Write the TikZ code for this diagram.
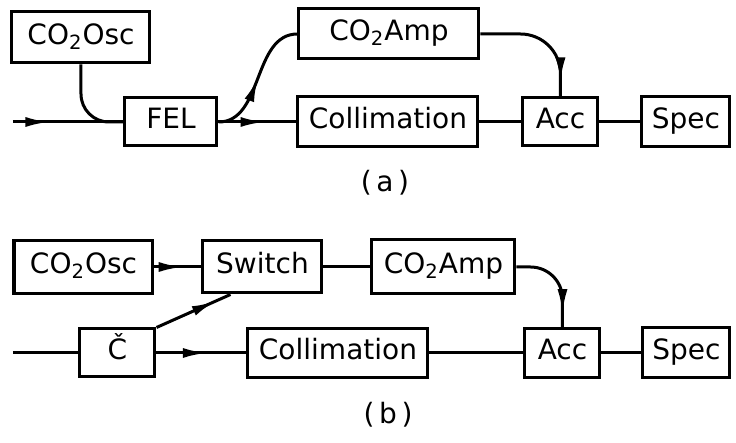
\documentclass[tikz,border=0pt]{standalone}
\usepackage{fontspec}
\setmainfont{DejaVu Sans}
\usetikzlibrary{arrows.meta,decorations.markings}

\tikzset{
  blk/.style={draw, line width=1.5pt, inner sep=0pt, text height=10pt, text depth=3pt,
    font=\fontsize{14}{16}\selectfont},
  wire/.style={line width=1.5pt},
  midarrow/.style={postaction={decorate},
    decoration={markings, mark=at position #1 with {\arrow{Latex[length=12pt,width=5pt]}}}}
}

\begin{document}
\begin{tikzpicture}[x=0.5pt, y=-0.5pt]
  \useasboundingbox (0,0) rectangle (736,443);

  % (a) FEL chain
  \node[blk, minimum width=69pt, minimum height=25.5pt] (osca) at (81,37.5) {CO\textsubscript{2}Osc};
  \node[blk, minimum width=46pt, minimum height=24pt] (fel) at (171,122) {FEL};
  \node[blk, minimum width=90pt, minimum height=25pt] (ampa) at (389,34) {CO\textsubscript{2}Amp};
  \node[blk, minimum width=90pt, minimum height=25pt] (colla) at (388,122) {Collimation};
  \node[blk, minimum width=37.5pt, minimum height=24pt] (acca) at (560.5,122) {Acc};
  \node[blk, minimum width=44pt, minimum height=25pt] (speca) at (686,122) {Spec};
  \coordinate (ina) at (13,122);
  \node[font=\fontsize{14}{16}\selectfont] (laba) at (385,183) {(\,a\,)};

  \draw[wire, midarrow=0.33] (ina) -- (fel.west);
  \draw[wire, rounded corners=14pt] (osca.south) |- (fel.west);
  \draw[wire, midarrow=0.5] (fel.east) .. controls +(45,0) and +(-45,0) .. (ampa.west);
  \draw[wire, midarrow=0.59] (fel.east) -- (colla.west);
  \draw[wire] (colla.east) -- (acca.west);
  \draw[wire] (acca.east) -- (speca.west);
  \draw[wire, rounded corners=20pt, midarrow=0.88] (ampa.east) -| (acca.north);

  % (b) Cherenkov chain
  \node[blk, minimum width=69.5pt, minimum height=26.5pt] (oscb) at (83.5,267) {CO\textsubscript{2}Osc};
  \node[blk, minimum width=59.5pt, minimum height=26pt] (switch) at (262.5,267) {Switch};
  \node[blk, minimum width=71.5pt, minimum height=27pt] (ampb) at (443.5,267) {CO\textsubscript{2}Amp};
  \node[blk, minimum width=37.5pt, minimum height=24pt] (cb) at (117.5,353) {Č};
  \node[blk, minimum width=90pt, minimum height=24.5pt] (collb) at (338,353) {Collimation};
  \node[blk, minimum width=37.5pt, minimum height=24.5pt] (accb) at (562.5,353) {Acc};
  \node[blk, minimum width=43.5pt, minimum height=25pt] (specb) at (686.5,353) {Spec};
  \coordinate (inb) at (13,353);
  \node[font=\fontsize{14}{16}\selectfont] (labb) at (388,415) {(\,b\,)};

  \draw[wire] (inb) -- (cb.west);
  \draw[wire, midarrow=0.6] (oscb.east) -- (switch.west);
  \draw[wire] (switch.east) -- (ampb.west);
  \draw[wire, midarrow=0.8] (cb.north east) -- ([xshift=-16pt]switch.south);
  \draw[wire, midarrow=0.56] (cb.east) -- (collb.west);
  \draw[wire] (collb.east) -- (accb.west);
  \draw[wire] (accb.east) -- (specb.west);
  \draw[wire, rounded corners=16pt, midarrow=0.85] (ampb.east) -| (accb.north);
\end{tikzpicture}
\end{document}
